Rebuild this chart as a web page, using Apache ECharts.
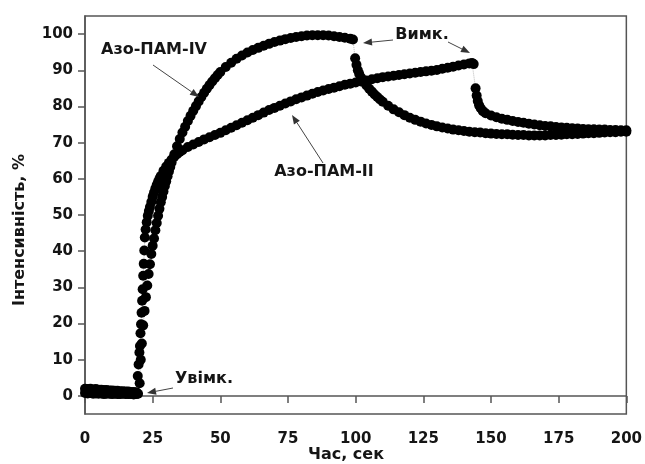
<!DOCTYPE html>
<html>
<head>
<meta charset="utf-8">
<script src="https://cdn.jsdelivr.net/npm/echarts@6/dist/echarts.min.js"></script>
<style>html,body{margin:0;padding:0;background:#fff}#c{width:645px;height:464px}</style>
</head>
<body>
<div id="c"></div>
<script>
// ---- data ----
const xTicks = [0, 25, 50, 75, 100, 125, 150, 175, 200];
const yTicks = [0, 10, 20, 30, 40, 50, 60, 70, 80, 90, 100];

const ivTime = [0,1,2,3,4,5,6,7,8,9,10,11,12,13,14,15,16,17,18,19,
  19.6,20.2,20.6,21,21.5,22,22.5,23,23.5,24,24.5,25,25.5,26,26.5,27,27.5,28,28.5,29,29.5,30,30.5,31,31.5,32,
  33,34,35,36,37,38,39,40,41,42,43,44,45,46,47,48,49,50,
  52,54,56,58,60,62,64,66,68,70,72,74,76,78,80,82,84,86,88,90,92,94,96,98,99,
  99.8,100.3,100.8,101.3,102,103,104,105,106,107,108,109,110,
  112,114,116,118,120,122,124,126,128,130,132,134,136,138,140,142,144,146,148,150,
  152,154,156,158,160,162,164,166,168,170,172,174,176,178,180,182,184,186,188,190,192,194,196,198,200];
const ivValue = [0.8,0.7,0.8,0.6,0.7,0.6,0.7,0.5,0.6,0.6,0.5,0.6,0.5,0.5,0.6,0.5,0.5,0.5,0.4,0.5,
  0.6,3.5,10,14.5,19.5,23.5,27.3,30.5,33.7,36.4,39.2,41.5,43.5,45.8,47.8,49.8,51.7,53.5,55,56.5,58,59.3,60.7,62,63.3,64.5,
  66.8,69,71,72.8,74.4,76,77.4,78.8,80.1,81.4,82.6,83.8,84.9,85.9,86.9,87.8,88.7,89.5,
  90.9,92.1,93.2,94.1,94.9,95.6,96.2,96.8,97.3,97.8,98.2,98.6,98.9,99.2,99.4,99.6,99.7,99.7,99.7,99.6,99.4,99.2,99,98.7,98.5,
  93.3,91.5,90,89,88,86.8,85.8,84.9,84.1,83.3,82.6,81.9,81.3,
  80.2,79.2,78.4,77.6,76.9,76.3,75.8,75.3,74.9,74.5,74.2,73.9,73.6,73.4,73.2,73,72.9,72.8,72.6,72.5,
  72.4,72.3,72.3,72.2,72.1,72.1,72,72,72,72,72.1,72.1,72.2,72.3,72.3,72.4,72.5,72.6,72.6,72.7,72.8,72.9,72.9,73,73];

const iiTime = [0,1,2,3,4,5,6,7,8,9,10,11,12,13,14,15,16,17,18,19,
  19.5,19.8,20.1,20.3,20.5,20.7,20.9,21.1,21.3,21.5,21.7,21.9,22.1,22.4,22.8,23.2,23.6,24,24.5,25,25.5,26,26.5,27,27.5,28,
  29,30,31,32,33,34,35,36,38,40,42,44,46,48,50,52,54,56,58,60,62,64,66,68,70,72,74,76,78,80,
  82,84,86,88,90,92,94,96,98,100,102,104,106,108,110,112,114,116,118,120,122,124,126,128,130,
  132,134,136,138,140,142,143,143.6,
  144.3,144.7,145.1,145.6,146.2,147,148,150,152,154,156,158,160,162,164,166,168,170,
  172,174,176,178,180,182,184,186,188,190,192,194,196,198,200];
const iiValue = [2.0,1.9,2.0,1.8,1.9,1.7,1.7,1.6,1.6,1.5,1.5,1.4,1.4,1.3,1.3,1.2,1.2,1.1,1.1,1.0,
  5.5,8.7,12,13.8,17.3,19.8,23,26.3,29.5,33.2,36.5,40.2,43.8,46,48,49.8,51.1,52.2,53.6,55,56.2,57.3,58.3,59.2,60,60.8,
  62.2,63.4,64.4,65.3,66.1,66.8,67.4,67.9,68.8,69.5,70.2,70.9,71.5,72.1,72.7,73.4,74.1,74.8,75.5,76.2,76.9,77.6,78.3,79,79.6,80.2,80.8,81.4,82,82.5,
  83,83.5,84,84.4,84.8,85.2,85.6,86,86.3,86.6,86.9,87.2,87.5,87.8,88.1,88.3,88.5,88.7,88.9,89.1,89.3,89.5,89.7,89.9,90.1,
  90.4,90.7,91,91.3,91.6,91.9,92,91.7,
  85,83,81.5,80.3,79.5,78.7,78.1,77.5,77,76.6,76.3,76,75.7,75.5,75.2,75,74.8,74.6,
  74.5,74.3,74.2,74.1,74,73.9,73.8,73.7,73.7,73.6,73.6,73.5,73.5,73.4,73.4];

const labelIV = 'Азо-ПАМ-IV';
const labelII = 'Азо-ПАМ-II';
const labelOff = 'Вимк.';
const labelOn = 'Увімк.';
const xTitle = 'Час, сек';
const yTitle = 'Інтенсивність, %';

// ---- chart ----
const FONT = '"DejaVu Sans", sans-serif';
const TXT = '#151515';
const AX = '#555';
const zip = (a, b) => a.map((t, i) => [t, b[i]]);

function arrow(x1, y1, x2, y2) {
  const a = Math.atan2(y2 - y1, x2 - x1), L = 9, W = 3.5;
  const c = Math.cos(a), s = Math.sin(a);
  const bx = x2 - L * c, by = y2 - L * s;
  return [
    { type: 'line', shape: { x1, y1, x2: bx, y2: by }, style: { stroke: '#444', lineWidth: 1 }, z: 100 },
    { type: 'polygon', shape: { points: [[x2, y2], [bx - W * s, by + W * c], [bx + W * s, by - W * c]] }, style: { fill: '#333' }, z: 100 }
  ];
}
function label(text, x, y) {
  return { type: 'text', x, y, z: 100, style: { text, fill: TXT, font: 'bold 16px ' + FONT, textAlign: 'center', textVerticalAlign: 'middle' } };
}

const seriesStyle = {
  type: 'line', symbol: 'circle', symbolSize: 10, showSymbol: true,
  itemStyle: { color: '#000' },
  lineStyle: { color: '#bbb', width: 1, type: 'dotted' },
  animation: false, silent: true
};

const chart = echarts.init(document.getElementById('c'), null, { renderer: 'canvas' });
chart.setOption({
  backgroundColor: '#fff',
  animation: false,
  grid: { left: 85, right: 17, top: 16, bottom: 50, show: true, borderColor: AX, borderWidth: 1.5, backgroundColor: 'transparent' },
  xAxis: {
    type: 'value', min: 0, max: 200, interval: 25,
    axisLine: { show: true, lineStyle: { color: AX, width: 1.5 } },
    axisTick: { show: true, length: 7, lineStyle: { color: AX, width: 1.5 } },
    axisLabel: { margin: 18, color: TXT, fontFamily: FONT, fontWeight: 'bold', fontSize: 15,
      customValues: xTicks },
    splitLine: { show: false }
  },
  yAxis: {
    type: 'value', min: -5, max: 105,
    axisLine: { show: true, lineStyle: { color: AX, width: 1.5 } },
    axisTick: { show: true, length: 7, lineStyle: { color: AX, width: 1.5 }, customValues: yTicks },
    axisLabel: { margin: 12, color: TXT, fontFamily: FONT, fontWeight: 'bold', fontSize: 15, customValues: yTicks },
    splitLine: { show: false }
  },
  series: [
    Object.assign({ name: labelIV, data: zip(ivTime, ivValue) }, seriesStyle),
    Object.assign({ name: labelII, data: zip(iiTime, iiValue) }, seriesStyle)
  ],
  graphic: [
    label(labelIV, 154, 50),
    label(labelII, 324, 172),
    label(labelOff, 422, 35),
    label(labelOn, 204, 379),
    ...arrow(153, 65, 199, 97),
    ...arrow(323, 163, 292, 115),
    ...arrow(393, 40, 363, 43),
    ...arrow(448, 42, 470, 53),
    ...arrow(173, 388, 147, 393),
    { type: 'text', x: 346, y: 455, style: { text: xTitle, fill: TXT, font: 'bold 16px ' + FONT, textAlign: 'center', textVerticalAlign: 'middle' } },
    { type: 'text', x: 20, y: 230, rotation: Math.PI / 2, style: { text: yTitle, fill: TXT, font: 'bold 16px ' + FONT, textAlign: 'center', textVerticalAlign: 'middle' } }
  ]
});
</script>
</body>
</html>
